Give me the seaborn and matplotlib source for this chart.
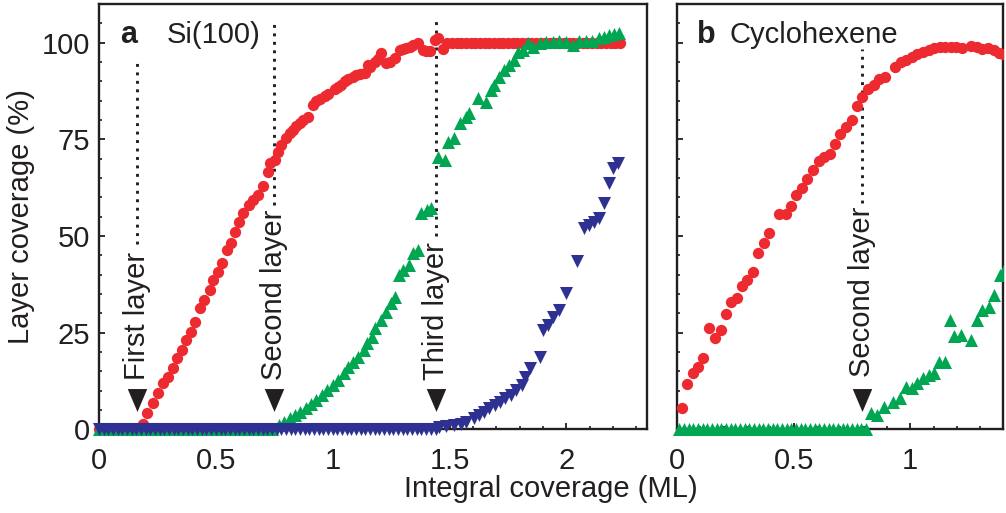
import matplotlib
matplotlib.use("Agg")
import matplotlib.pyplot as plt
from matplotlib.patches import Rectangle
from matplotlib.ticker import MultipleLocator
import pandas as pd
import seaborn as sns

# ---------------------------------------------------------------- data
# Si(100): coverage of first / second / third layer vs integral coverage
si_first_x = [0.00, 0.02, 0.04, 0.06, 0.08, 0.10, 0.12, 0.14, 0.16,
              0.19, 0.205, 0.229, 0.252, 0.274, 0.294, 0.316, 0.335, 0.355, 0.372,
              0.393, 0.41, 0.431, 0.449, 0.473, 0.487, 0.508, 0.526, 0.546, 0.564,
              0.584, 0.60, 0.618, 0.641, 0.66, 0.679, 0.702, 0.723, 0.731, 0.752,
              0.766, 0.78, 0.802, 0.816, 0.83, 0.845, 0.859, 0.873, 0.894, 0.916,
              0.93, 0.944, 0.966, 0.98, 1.008, 1.023, 1.037, 1.051, 1.066, 1.087,
              1.10, 1.115, 1.137, 1.151, 1.158, 1.179, 1.194, 1.208, 1.23, 1.244,
              1.265, 1.286, 1.30, 1.315, 1.329, 1.343, 1.365, 1.386, 1.40, 1.415,
              1.436, 1.45, 1.47,
              1.49, 1.51, 1.53, 1.55, 1.57, 1.59, 1.61, 1.63, 1.65, 1.67, 1.69,
              1.71, 1.73, 1.75, 1.77, 1.79, 1.81, 1.83, 1.85, 1.87, 1.89, 1.91,
              1.93, 1.95, 1.97, 1.99, 2.01, 2.03, 2.05, 2.07, 2.09, 2.11, 2.13,
              2.15, 2.17, 2.19, 2.21, 2.23]
si_first_y = [0, 0, 0, 0, 0, 0, 0, 0, 0,
              1.5, 4.1, 6.8, 9.3, 12.0, 13.6, 15.9, 18.4, 20.5, 23.1,
              25.2, 27.8, 31.3, 33.4, 36.0, 38.6, 40.8, 42.9, 46.4, 48.1,
              51.1, 53.5, 55.9, 58.0, 59.3, 60.6, 62.8, 66.6, 68.8, 69.7,
              71.8, 73.5, 75.3, 76.6, 77.4, 78.5, 79.2, 80.0, 80.9, 83.9,
              84.8, 85.4, 86.2, 86.7, 87.9, 88.6, 89.1, 90.0, 90.5, 91.2,
              91.6, 91.9, 92.1, 94.2, 93.8, 95.1, 95.7, 97.4, 94.7, 95.1,
              96.0, 98.1, 98.3, 98.6, 99.0, 99.4, 99.8, 98.1, 97.9, 97.9,
              100.7, 101.1, 98.3,
              100, 100, 100, 100, 100, 100, 100, 100, 100, 100, 100,
              100, 100, 100, 100, 100, 100, 100, 100, 100, 100, 100,
              100, 100, 100, 100, 100, 100, 100, 100, 100, 100, 100,
              100, 100, 100, 100, 100]

si_second_x = [0.00, 0.02, 0.04, 0.06, 0.08, 0.10, 0.12, 0.14, 0.16, 0.18,
               0.20, 0.22, 0.24, 0.26, 0.28, 0.30, 0.32, 0.34, 0.36, 0.38,
               0.40, 0.42, 0.44, 0.46, 0.48, 0.50, 0.52, 0.54, 0.56, 0.58,
               0.60, 0.62, 0.64, 0.66, 0.68, 0.70, 0.72, 0.74,
               0.77, 0.793, 0.816, 0.84, 0.862, 0.885, 0.908, 0.93, 0.953, 0.977,
               1.0, 1.022, 1.047, 1.064, 1.086, 1.11, 1.133, 1.145, 1.167, 1.18,
               1.205, 1.228, 1.25, 1.267, 1.282, 1.30, 1.327, 1.342, 1.366, 1.38,
               1.404, 1.42, 1.45, 1.479, 1.493, 1.521, 1.543, 1.571, 1.585, 1.621,
               1.657, 1.678, 1.692, 1.713, 1.734, 1.756, 1.778, 1.792, 1.813, 1.835,
               1.856, 1.885, 1.913, 1.942, 1.97, 1.999, 2.027, 2.056, 2.084, 2.11,
               2.141, 2.162, 2.184, 2.205, 2.226]
si_second_y = [0, 0, 0, 0, 0, 0, 0, 0, 0, 0,
               0, 0, 0, 0, 0, 0, 0, 0, 0, 0,
               0, 0, 0, 0, 0, 0, 0, 0, 0, 0,
               0, 0, 0, 0, 0, 0, 0, 0,
               1.1, 2.0, 2.8, 3.7, 4.6, 5.4, 6.5, 7.6, 8.9, 10.2,
               11.5, 12.8, 14.5, 16.2, 17.5, 18.8, 20.5, 22.2, 24.0, 26.1,
               28.3, 30.4, 32.6, 34.3, 39.9, 41.2, 42.5, 45.5, 46.4, 55.9,
               56.7, 57.2, 70.5, 69.7, 74.4, 75.3, 79.2, 80.9, 81.7, 85.6,
               84.7, 87.8, 89.1, 91.2, 92.9, 94.2, 95.5, 97.7, 98.1, 99.8,
               98.8, 99.9, 100.1, 100.1, 100.4, 100.1, 99.4, 100.4, 100.5, 100.5,
               101.2, 101.5, 101.9, 102.2, 102.6]

si_third_x = [0.00, 0.02, 0.04, 0.06, 0.08, 0.10, 0.12, 0.14, 0.16, 0.18,
              0.20, 0.22, 0.24, 0.26, 0.28, 0.30, 0.32, 0.34, 0.36, 0.38,
              0.40, 0.42, 0.44, 0.46, 0.48, 0.50, 0.52, 0.54, 0.56, 0.58,
              0.60, 0.62, 0.64, 0.66, 0.68, 0.70, 0.72, 0.74, 0.76, 0.78,
              0.80, 0.82, 0.84, 0.86, 0.88, 0.90, 0.92, 0.94, 0.96, 0.98,
              1.00, 1.02, 1.04, 1.06, 1.08, 1.10, 1.12, 1.14, 1.16, 1.18,
              1.20, 1.22, 1.24, 1.26, 1.28, 1.30, 1.32, 1.34, 1.36, 1.38,
              1.40, 1.42, 1.44,
              1.457, 1.487, 1.517, 1.547, 1.572, 1.603, 1.624, 1.648, 1.671, 1.694,
              1.717, 1.739, 1.762, 1.785, 1.808, 1.823, 1.846, 1.885, 1.90, 1.923,
              1.944, 1.968, 1.999, 2.045, 2.075, 2.098, 2.12, 2.141, 2.162, 2.184,
              2.198, 2.219]
si_third_y = [0, 0, 0, 0, 0, 0, 0, 0, 0, 0,
              0, 0, 0, 0, 0, 0, 0, 0, 0, 0,
              0, 0, 0, 0, 0, 0, 0, 0, 0, 0,
              0, 0, 0, 0, 0, 0, 0, 0, 0, 0,
              0, 0, 0, 0, 0, 0, 0, 0, 0, 0,
              0, 0, 0, 0, 0, 0, 0, 0, 0, 0,
              0, 0, 0, 0, 0, 0, 0, 0, 0, 0,
              0, 0, 0,
              0.7, 0.9, 1.1, 1.5, 2.0, 2.8, 3.7, 4.6, 5.4, 6.3,
              7.1, 8.0, 8.9, 10.2, 11.5, 13.6, 15.8, 18.8, 25.7, 27.0,
              29.1, 30.9, 35.2, 43.4, 52.0, 52.8, 53.7, 54.6, 58.6, 63.6,
              67.5, 68.8]

# Cyclohexene: first / second layer coverage
cy_first_x = [0.02, 0.044, 0.067, 0.091, 0.113, 0.139, 0.163, 0.188, 0.21, 0.23,
              0.256, 0.278, 0.30, 0.325, 0.349, 0.373, 0.396, 0.439, 0.468, 0.489,
              0.511, 0.535, 0.556, 0.583, 0.607, 0.631, 0.654, 0.678, 0.70, 0.725,
              0.75, 0.771, 0.795, 0.818, 0.843, 0.867, 0.89, 0.936, 0.96, 0.983,
              1.007, 1.031, 1.055, 1.079, 1.103, 1.126, 1.15, 1.175, 1.197, 1.222,
              1.26, 1.286, 1.31, 1.334, 1.358, 1.38, 1.40]
cy_first_y = [5.4, 11.7, 14.5, 16.0, 18.4, 26.1, 23.5, 25.7, 29.8, 33.0,
              33.9, 37.1, 38.6, 40.8, 45.5, 48.3, 50.7, 55.7, 55.7, 57.8,
              60.6, 62.3, 64.7, 67.1, 69.3, 70.5, 71.2, 73.8, 76.3, 78.3,
              80.0, 83.5, 85.9, 88.0, 89.1, 90.6, 91.2, 93.8, 94.9, 95.6,
              96.4, 97.1, 97.7, 98.1, 98.6, 98.8, 99.0, 99.0, 98.8, 98.7,
              99.1, 98.8, 98.3, 98.6, 98.1, 97.4, 97.1]

cy_second_x = [0.01, 0.03, 0.05, 0.07, 0.09, 0.11, 0.13, 0.15, 0.17, 0.19,
               0.21, 0.23, 0.25, 0.27, 0.29, 0.31, 0.33, 0.35, 0.37, 0.39,
               0.41, 0.43, 0.45, 0.47, 0.49, 0.51, 0.53, 0.55, 0.57, 0.59,
               0.61, 0.63, 0.65, 0.67, 0.69, 0.71, 0.73, 0.75, 0.77, 0.79,
               0.81,
               0.831, 0.857, 0.888, 0.928, 0.957, 0.983, 1.007, 1.031, 1.057, 1.079,
               1.103, 1.122, 1.15, 1.169, 1.189, 1.218, 1.262, 1.286, 1.31, 1.336,
               1.358, 1.384, 1.408]
cy_second_y = [0, 0, 0, 0, 0, 0, 0, 0, 0, 0,
               0, 0, 0, 0, 0, 0, 0, 0, 0, 0,
               0, 0, 0, 0, 0, 0, 0, 0, 0, 0,
               0, 0, 0, 0, 0, 0, 0, 0, 0, 0,
               0,
               4.1, 3.7, 5.8, 7.1, 8.0, 11.0, 10.6, 11.9, 13.2, 14.0,
               14.5, 17.5, 17.5, 28.3, 24.1, 24.4, 23.1, 28.3, 30.9, 31.6,
               34.7, 39.9, 41.6]

# layer-completion markers (integral coverage, ML)
si_marks = ["First layer", "Second layer", "Third layer"]
si_mark_x = [0.163, 0.75, 1.44]
cy_marks = ["Second layer"]
cy_mark_x = [0.794]

x_tick_a = [0, 0.5, 1, 1.5, 2]
x_tick_a_labels = ["0", "0.5", "1", "1.5", "2"]
x_tick_b = [0, 0.5, 1]
x_tick_b_labels = ["0", "0.5", "1"]
y_ticks = [0, 25, 50, 75, 100]
y_tick_labels = ["0", "25", "50", "75", "100"]

# ---------------------------------------------------------------- style
sns.set_style("ticks")
plt.rcParams["font.family"] = ["Liberation Sans", "DejaVu Sans"]
INK = "#231f20"
RED = "#ec2a30"
GREEN = "#00a651"
BLUE = "#2e3192"
FS = 21

fig = plt.figure(figsize=(10.06, 5.13), dpi=100)
fig.patch.set_facecolor("white")
W, H = 1006.0, 513.0
bottom, height = (H - 429.3) / H, 425.3 / H
ax_a = fig.add_axes([99 / W, bottom, 548 / W, height])
ax_b = fig.add_axes([677 / W, bottom, 326 / W, height])

arrow_head = [(-0.85, 1.0), (0.85, 1.0), (0.0, -1.0)]


def draw_series(ax, xs, ys, color, marker, size):
    df = pd.DataFrame({"coverage": xs, "layer": ys})
    sns.scatterplot(data=df, x="coverage", y="layer", ax=ax, color=color,
                    marker=marker, s=size, linewidth=0, legend=False, zorder=3)
    coll = ax.collections[-1]
    # clip at the right frame only, so points on the baseline stay whole
    coll.set_clip_path(Rectangle((-0.1, -0.1), 1.1, 1.3,
                                 transform=ax.transAxes))


def draw_marker(ax, x, label, y_top, y_line_end, y_text):
    ax.plot([x, x], [y_line_end, y_top], color=INK, lw=2.1,
            linestyle=(0, (1, 1.9)), dash_capstyle="butt", zorder=2)
    ax.text(x, y_text, label, rotation=90, ha="center", va="bottom",
            fontsize=FS, color=INK, zorder=4)
    ax.plot([x], [7.7], marker=arrow_head, markersize=16.5, color=INK,
            markeredgewidth=0, linestyle="none", zorder=4, clip_on=False)


def style_axes(ax, xmax, xt, xtl, show_y):
    ax.set_xlim(0, xmax)
    ax.set_ylim(0, 110)
    ax.set_xticks(xt)
    ax.set_xticklabels(xtl)
    ax.set_yticks(y_ticks)
    ax.set_yticklabels(y_tick_labels if show_y else [])
    ax.xaxis.set_minor_locator(MultipleLocator(0.1))
    ax.yaxis.set_minor_locator(MultipleLocator(5))
    ax.tick_params(axis="both", which="both", direction="in", color=INK,
                   labelcolor=INK, labelsize=FS, top=False, right=False)
    ax.tick_params(axis="both", which="major", length=4.2, width=1.3)
    ax.tick_params(axis="both", which="minor", length=2.4, width=1.2)
    ax.tick_params(axis="x", which="major", pad=12.5)
    ax.tick_params(axis="y", which="major", pad=6.5)
    for sp in ax.spines.values():
        sp.set_visible(True)
        sp.set_linewidth(1.7)
        sp.set_color(INK)
    ax.set_xlabel("")
    ax.set_ylabel("")
    ax.set_facecolor("white")


# ---------------------------------------------------------------- panel a
draw_series(ax_a, si_first_x, si_first_y, RED, "o", 66)
draw_series(ax_a, si_second_x, si_second_y, GREEN, "^", 88)
draw_series(ax_a, si_third_x, si_third_y, BLUE, "v", 88)
style_axes(ax_a, 2.345, x_tick_a, x_tick_a_labels, True)
ax_a.set_ylabel("Layer coverage (%)", fontsize=FS, color=INK, labelpad=5)

line_tops = [95.0, 105.5, 105.5]
line_ends = [48.0, 58.0, 50.0]
for name, xm, yt, ye in zip(si_marks, si_mark_x, line_tops, line_ends):
    draw_marker(ax_a, xm, name, yt, ye, 12.7)

ax_a.text(0.09, 100, "a", fontsize=22, fontweight="bold", color=INK,
          ha="left", va="baseline")
ax_a.text(0.29, 100, "Si(100)", fontsize=FS, color=INK,
          ha="left", va="baseline")

# ---------------------------------------------------------------- panel b
draw_series(ax_b, cy_first_x, cy_first_y, RED, "o", 66)
draw_series(ax_b, cy_second_x, cy_second_y, GREEN, "^", 88)
style_axes(ax_b, 1.398, x_tick_b, x_tick_b_labels, False)
for name, xm in zip(cy_marks, cy_mark_x):
    draw_marker(ax_b, xm, name, 98.4, 58.5, 13.5)

ax_b.text(0.086, 100, "b", fontsize=22, fontweight="bold", color=INK,
          ha="left", va="baseline")
ax_b.text(0.223, 100, "Cyclohexene", fontsize=FS, color=INK,
          ha="left", va="baseline")

fig.text(551 / W, (H - 497) / H, "Integral coverage (ML)", fontsize=FS,
         color=INK, ha="center", va="baseline")

fig.savefig("out.png", dpi=100, facecolor="white")
